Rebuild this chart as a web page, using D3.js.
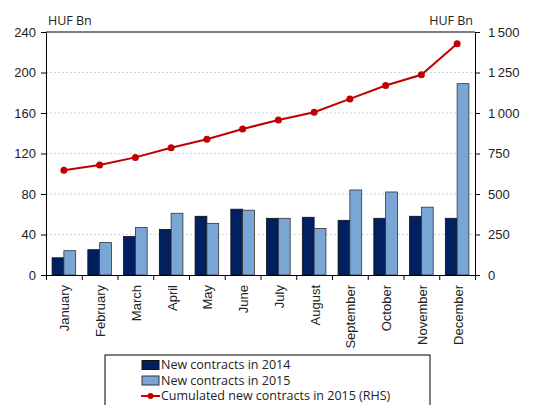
<!DOCTYPE html>
<html>
<head>
<meta charset="utf-8">
<script src="https://cdn.jsdelivr.net/npm/d3@7"></script>
<style>
  body { margin: 0; background: #fff; }
  svg { font-family: "Open Sans", "Noto Sans", sans-serif; font-size: 12px; }
</style>
</head>
<body>
<svg id="chart" width="556" height="405"></svg>
<script>
const months = ['January', 'February', 'March', 'April', 'May', 'June',
    'July', 'August', 'September', 'October', 'November', 'December'];
const contracts2014 = [17, 25, 38, 45, 58, 65, 56, 57, 54, 56, 58, 56];
const contracts2015 = [24, 32, 47, 61, 51, 64, 56, 46, 84, 82, 67, 189];
const cumulated2015 = [646, 679, 726, 786, 838, 901, 957, 1005, 1087, 1170, 1236, 1428];
const leftTicks = [0, 40, 80, 120, 160, 200, 240];
const rightTicks = [0, 250, 500, 750, 1000, 1250, 1500];
const seriesNames = ['New contracts in 2014', 'New contracts in 2015', 'Cumulated new contracts in 2015 (RHS)'];

const colors = {
    c2014: '#002060',
    c2015: '#7aa6d6',
    line: '#c00000'
};

const margin = { top: 32, right: 81, bottom: 130, left: 46 };
const width = 556, height = 405;
const plotW = width - margin.left - margin.right;
const plotB = 275;

const svg = d3.select('#chart');

/* scales */
const x = d3.scaleBand()
    .domain(months)
    .range([margin.left, margin.left + plotW])
    .paddingInner(0.34)
    .paddingOuter(0.17);
const x1 = d3.scaleBand()
    .domain(['2014', '2015'])
    .range([0, x.bandwidth()]);
const xIdx = d3.scaleLinear()
    .domain([0, months.length])
    .range([margin.left, margin.left + plotW]);
const yL = d3.scaleLinear().domain([0, 240]).range([plotB, margin.top]);
const yR = d3.scaleLinear().domain([0, 1500]).range([plotB, margin.top]);

/* gridlines */
svg.append('g')
    .selectAll('line')
    .data(leftTicks.filter(d => d > 0 && d < 240)).enter()
    .append('line')
    .attr('x1', margin.left)
    .attr('x2', margin.left + plotW)
    .attr('y1', d => yL(d))
    .attr('y2', d => yL(d))
    .attr('stroke', '#d4d4d4')
    .attr('stroke-dasharray', '2,2');

/* bars */
const rows = months.map((m, i) => ({ month: m, a: contracts2014[i], b: contracts2015[i] }));
const groups = svg.append('g').selectAll('g')
    .data(rows).enter()
    .append('g')
    .attr('transform', d => `translate(${x(d.month)},0)`);
groups.append('rect')
    .attr('x', x1('2014'))
    .attr('y', d => yL(d.a))
    .attr('width', x1.bandwidth())
    .attr('height', d => plotB - yL(d.a))
    .attr('fill', colors.c2014)
    .attr('stroke', '#111')
    .attr('stroke-width', 0.8);
groups.append('rect')
    .attr('x', x1('2015'))
    .attr('y', d => yL(d.b))
    .attr('width', x1.bandwidth())
    .attr('height', d => plotB - yL(d.b))
    .attr('fill', colors.c2015)
    .attr('stroke', '#333')
    .attr('stroke-width', 0.8);

/* cumulated line */
const cx = (d, i) => x(months[i]) + x.bandwidth() / 2;
const line = d3.line()
    .x(cx)
    .y(d => yR(d));
svg.append('path')
    .datum(cumulated2015)
    .attr('d', line)
    .attr('fill', 'none')
    .attr('stroke', colors.line)
    .attr('stroke-width', 2);
svg.append('g').selectAll('circle')
    .data(cumulated2015).enter()
    .append('circle')
    .attr('cx', cx)
    .attr('cy', d => yR(d))
    .attr('r', 3.5)
    .attr('fill', colors.line);

/* frame */
svg.append('line')
    .attr('x1', margin.left).attr('x2', margin.left + plotW)
    .attr('y1', margin.top).attr('y2', margin.top)
    .attr('stroke', '#000');

/* axes */
const leftAxis = svg.append('g')
    .attr('transform', `translate(${margin.left},0)`)
    .call(d3.axisLeft(yL).tickValues(leftTicks).tickSize(5).tickSizeOuter(0));
const rightAxis = svg.append('g')
    .attr('transform', `translate(${margin.left + plotW},0)`)
    .call(d3.axisRight(yR).tickValues(rightTicks).tickSize(5).tickSizeOuter(0)
        .tickFormat(d => d3.format(',')(d).replace(',', '\u2009')));
[leftAxis, rightAxis].forEach(a => {
    a.selectAll('text').style('font-size', '13px').attr('fill', '#222');
    a.select('.domain').attr('stroke', '#000');
});
leftAxis.selectAll('text').attr('x', -10);
rightAxis.selectAll('text').attr('x', 13);

svg.append('g')
    .attr('transform', `translate(0,${plotB})`)
    .call(d3.axisBottom(xIdx).tickValues(d3.range(months.length + 1)).tickFormat('').tickSize(5).tickSizeOuter(0));

const xLabels = svg.append('g')
    .attr('transform', `translate(0,${plotB})`)
    .call(d3.axisBottom(x).tickSize(0));
xLabels.select('.domain').remove();
xLabels.selectAll('text')
    .attr('transform', 'rotate(-90)')
    .attr('x', -10)
    .attr('y', 1)
    .attr('dy', '0.35em')
    .attr('text-anchor', 'end')
    .style('font-size', '13px')
    .attr('fill', '#222');

/* unit labels */
svg.append('text')
    .attr('x', 48).attr('y', 25)
    .style('font-size', '12.5px')
    .attr('fill', '#222')
    .text('HUF Bn');
svg.append('text')
    .attr('x', 473).attr('y', 25)
    .attr('text-anchor', 'end')
    .style('font-size', '12.5px')
    .attr('fill', '#222')
    .text('HUF Bn');

/* legend */
const legend = svg.append('g');
legend.append('rect')
    .attr('x', 105).attr('y', 355)
    .attr('width', 325).attr('height', 60)
    .attr('fill', '#fff')
    .attr('stroke', '#000');
const legY = [365, 380.5, 396];
legend.append('rect')
    .attr('x', 142).attr('y', legY[0] - 4.5)
    .attr('width', 17).attr('height', 9)
    .attr('fill', colors.c2014).attr('stroke', '#111');
legend.append('rect')
    .attr('x', 142).attr('y', legY[1] - 4.5)
    .attr('width', 17).attr('height', 9)
    .attr('fill', colors.c2015).attr('stroke', '#333');
legend.append('line')
    .attr('x1', 141).attr('x2', 160)
    .attr('y1', legY[2]).attr('y2', legY[2])
    .attr('stroke', colors.line).attr('stroke-width', 2);
legend.append('circle')
    .attr('cx', 150.5).attr('cy', legY[2]).attr('r', 3)
    .attr('fill', colors.line);
legend.selectAll('text.leg')
    .data(seriesNames).enter()
    .append('text')
    .attr('class', 'leg')
    .attr('x', 161)
    .attr('y', (d, i) => legY[i])
    .attr('dy', '0.35em')
    .style('font-size', '12.5px')
    .attr('fill', '#222')
    .text(d => d);
</script>
</body>
</html>
